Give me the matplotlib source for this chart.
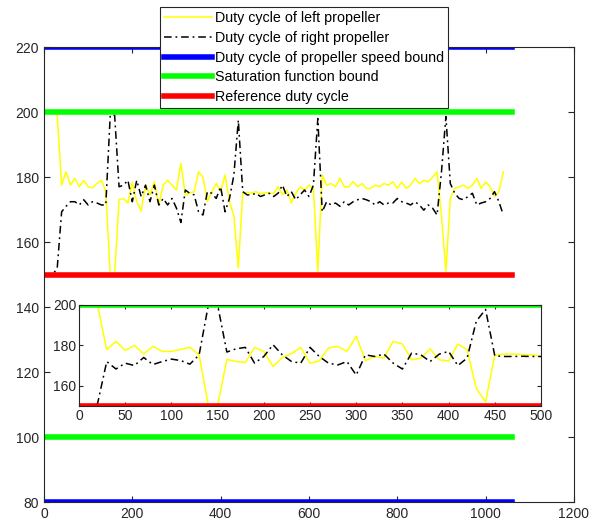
''' Duty cycle of the propellers with bounds, plus inset '''

import numpy as np
import matplotlib
matplotlib.use("Agg")
import matplotlib.pyplot as plt

plt.rcParams['font.family'] = ['Liberation Sans', 'DejaVu Sans']

# main run, one sample every 10 steps
main_x = np.arange(0, 1050, 10)
main_left = [200, 200, 200, 199, 177.5, 181.6, 177.5, 179.6, 177, 179,
             177, 176.7, 178, 179, 175.5, 150, 150, 173, 173.4, 172,
             178.4, 172.4, 169.5, 177.5, 174.5, 178.6, 171.4, 177.5, 179, 177.5,
             176, 184.2, 174.5, 175, 175.5, 181.6, 180, 172.4, 175.5, 178,
             175.5, 180.6, 172.4, 168, 152, 175, 175.3, 175, 175.5, 174.8,
             175.2, 175, 175, 177, 174.5, 176, 172, 175, 177, 176,
             177.5, 176.5, 151, 180.6, 177.5, 178, 177, 179.6, 177, 177,
             178.6, 177, 178, 176.5, 176.5, 177.5, 177, 178, 177.5, 178.5,
             176.5, 178.5, 176.5, 177.5, 179.6, 178, 179, 178.5, 180, 181.6,
             168, 151, 173.4, 176.5, 177, 177.5, 176.5, 177.5, 179.6, 176.5,
             178.5, 177, 174, 175.5, 181.6]
main_right = [150, 150, 150, 152, 169.3, 171, 172.4, 172.4, 171.4, 173,
              171.4, 172.4, 172, 171.4, 171.4, 199, 199, 177, 177.5, 179,
              172.4, 179, 174, 177.5, 172.4, 177.5, 171.4, 173.4, 171.4, 173.4,
              170.4, 166, 176, 175, 174.5, 169.3, 168.3, 175.5, 175, 173.4,
              177, 169.3, 173.4, 180.6, 197.5, 175.5, 174.5, 174.5, 175, 174,
              174.5, 175, 174, 175, 177.5, 174, 175.5, 173, 174.5, 176,
              174, 177.5, 198, 169.3, 172.4, 171.4, 172, 171, 172.4, 171.4,
              172.4, 173, 173.4, 173, 172.4, 171.4, 172.4, 171.4, 172, 172,
              173.4, 172.4, 172, 171.4, 172.4, 171.4, 169.8, 171.4, 170.4, 168.3,
              181.6, 198.6, 178, 175, 173.4, 173, 174, 175, 171.4, 172,
              172.4, 173.4, 175.5, 172.4, 168.3]

# inset run
inset_x = np.arange(0, 510, 10)
inset_left = [200, 200, 200, 177.8, 182, 177.5, 180, 175.8, 179.5, 177,
              177, 178, 179, 175.3, 150, 150, 173, 172, 171.5, 179,
              177, 169.5, 174, 176, 179, 171.2, 172.3, 178.7, 179.5, 177,
              184.5, 172.5, 174.5, 173.7, 182, 180.7, 172.8, 173.7, 178.3, 172.8,
              172.3, 180.7, 177.8, 158.7, 152, 175.3, 175.7, 175.7, 175.5, 175.3,
              174.5]
inset_right = [150, 150, 151, 172, 168.3, 171.2, 170, 174, 170.5, 172,
               173.2, 172.5, 170.7, 175.3, 200, 200, 176.7, 178.3, 179, 171.2,
               174.5, 180.3, 175.3, 172, 171.2, 179, 174.5, 171.2, 170.3, 172,
               165.3, 175.3, 174.5, 175.7, 171.2, 168.3, 176.2, 175.3, 172, 175.7,
               177, 170, 173.7, 192, 197.8, 174.8, 174.5, 174.5, 174.6, 174.5,
               174.5]

speed_bounds = [220, 80]
sat_bounds = [200, 100]
ref_duty = 150
bound_x = [0, 1060]
inset_bound_x = [0, 500]

dashdot = (5, 2.5, 1.2, 2.5)

fig = plt.figure(figsize=(6.04, 5.30), dpi=100)
ax = fig.add_axes([0.0728, 0.0528, 0.8775, 0.8585])

h1, = ax.plot(main_x, main_left, color='#FFFF00', lw=1.1, label='Duty cycle of left propeller')
h2, = ax.plot(main_x, main_right, color='black', lw=1.1, dashes=dashdot, label='Duty cycle of right propeller')
h3, = ax.plot(bound_x, [speed_bounds[0]] * 2, color='#0000FF', lw=4, label='Duty cycle of propeller speed bound')
ax.plot(bound_x, [speed_bounds[1]] * 2, color='#0000FF', lw=4)
h4, = ax.plot(bound_x, [sat_bounds[0]] * 2, color='#00FF00', lw=4, label='Saturation function bound')
ax.plot(bound_x, [sat_bounds[1]] * 2, color='#00FF00', lw=4)
h5, = ax.plot(bound_x, [ref_duty] * 2, color='#FF0000', lw=4, label='Reference duty cycle')

ax.set_xlim(0, 1200)
ax.set_ylim(80, 220)
ax.set_xticks(range(0, 1201, 200))
ax.set_yticks(range(80, 221, 20))
ax.tick_params(direction='in', top=True, right=True, labelsize=10, colors='0.15', length=4)
for s in ax.spines.values():
    s.set_color('0.15')
    s.set_linewidth(0.8)

leg = fig.legend(handles=[h1, h2, h3, h4, h5], loc='upper left',
                 bbox_to_anchor=(160 / 604, 1 - 7 / 530), bbox_transform=fig.transFigure,
                 borderaxespad=0, fontsize=10.3, handlelength=3.3, handletextpad=0.25,
                 labelspacing=0.4, borderpad=0.3, fancybox=False, framealpha=1)
leg.get_frame().set_edgecolor('0.15')
leg.get_frame().set_linewidth(0.8)

ins = fig.add_axes([0.1308, 0.234, 0.7649, 0.1906])
ins.plot(inset_x, inset_left, color='#FFFF00', lw=1.1)
ins.plot(inset_x, inset_right, color='black', lw=1.1, dashes=dashdot)
ins.plot(inset_bound_x, [sat_bounds[0]] * 2, color='#00FF00', lw=4)
ins.plot(inset_bound_x, [ref_duty] * 2, color='#FF0000', lw=4)
ins.set_xlim(0, 500)
ins.set_ylim(150, 200)
ins.set_xticks(range(0, 501, 50))
ins.set_yticks([160, 180, 200])
ins.tick_params(direction='in', top=True, right=True, labelsize=10, colors='0.15', length=3, pad=2)
for s in ins.spines.values():
    s.set_color('0.15')
    s.set_linewidth(0.8)

fig.savefig('out.png', dpi=100)
